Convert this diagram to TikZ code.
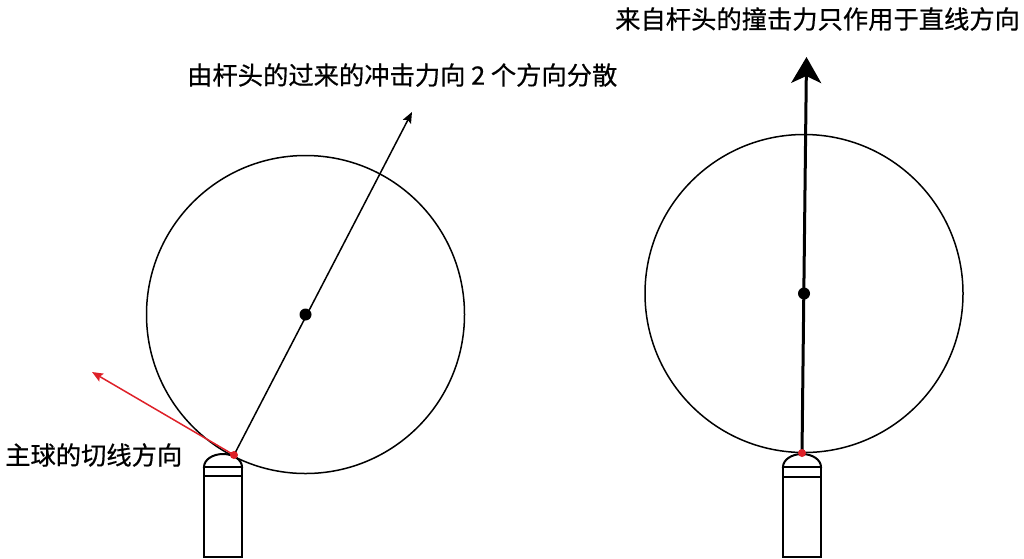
\documentclass[tikz,border=0pt]{standalone}
\usepackage{fontspec}
\newfontfamily\cjk[FakeBold=0.6]{Noto Sans CJK SC}
\usetikzlibrary{arrows.meta}
\definecolor{tipred}{RGB}{222,32,40}
\tikzset{
	ball/.style={line width=1.5pt},
	cue/.style={line width=2pt, fill=white},
	thinarrow/.style={line width=1.5pt, -{Stealth[length=11pt,width=9pt,inset=2pt]}},
	thickarrow/.style={line width=3pt, -{Stealth[length=26pt,width=30pt,inset=7pt]}},
	label/.style={font=\cjk\fontsize{25.3}{29}\selectfont, inner sep=0pt, anchor=west},
}
\begin{document}
\begin{tikzpicture}[x=1pt,y=-1pt]
			%%%%% START %%%%%
			\useasboundingbox (0,0) rectangle (1024,558);
			
			\coordinate (lc) at (305.5,314.5);
			\coordinate (lhit) at (234,455);
			\coordinate (lfar) at (412,112);
			\coordinate (ltan) at (92,372);
			
			\draw[ball] (lc) circle (159);
			
			\draw[cue] (204,467) arc (180:360:19 and 13) -- cycle;
			\draw[cue] (204,467) rectangle (242,476);
			\draw[cue] (204,476) rectangle (242,557);
			
			\draw[thinarrow] (lhit) -- (lfar);
			\draw[thinarrow, tipred] (lhit) -- (ltan);
			\fill (lc) circle (6);
			\fill[tipred] (lhit) circle (4);
			
			\node[label] (lnote) at (187,75) {由杆头的过来的冲击力向 2 个方向分散};
			\node[label] (tnote) at (5,455) {主球的切线方向};
			
			\coordinate (rc) at (804,293.5);
			\coordinate (rhit) at (802,453);
			\coordinate (rtop) at (806.5,57);
			
			\draw[ball] (rc) circle (159);
			
			\draw[cue] (783,467) arc (180:360:19 and 13) -- cycle;
			\draw[cue] (783,467) rectangle (821,477);
			\draw[cue] (783,477) rectangle (821,557);
			
			\draw[thickarrow] (rhit) -- (rtop);
			\fill (rc) circle (6);
			\fill[tipred] (rhit) circle (4);
			
			\node[label] (rnote) at (615,19) {来自杆头的撞击力只作用于直线方向};
			
			%%%%% END %%%%%
\end{tikzpicture}
\end{document}
